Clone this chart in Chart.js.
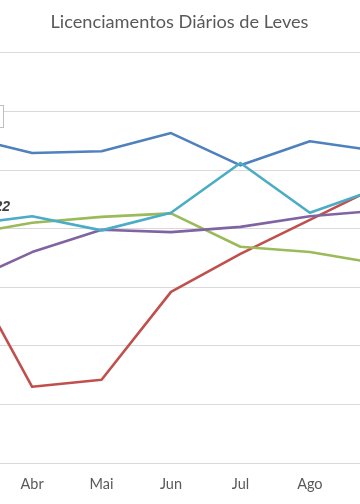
<!DOCTYPE html>
<html>
<head>
<meta charset="utf-8">
<script src="https://cdn.jsdelivr.net/npm/chart.js@4/dist/chart.umd.min.js"></script>
<style>
  html, body { margin: 0; padding: 0; background: #ffffff; overflow: hidden; width: 360px; height: 504px; }
  #wrap { position: absolute; left: -100px; top: 0; width: 560px; height: 504px; }
</style>
</head>
<body>
<div id="wrap"><canvas id="c"></canvas></div>
<script>
// Categories (months; Mar and Set are partly outside the visible crop)
const months = ["Mar", "Abr", "Mai", "Jun", "Jul", "Ago", "Set"];

// Series values (arbitrary units, axis hidden by the crop)
const s2019 = [558, 529, 532, 563, 508, 549, 532]; // blue
const s2020 = [347, 130, 142, 292, 357, 415, 473]; // red
const s2021 = [389, 410, 420, 426, 369, 360, 340]; // green
const s2023 = [306, 360, 398, 394, 403, 421, 431]; // purple
const s2022 = [406, 421, 397, 427, 512, 427, 469]; // cyan

const yTicks = [0, 100, 200, 300, 400, 500, 600, 700];

const titleText = "Licenciamentos Diários de Leves";
const sideLabel = "2022";

const decor = {
  id: 'decor',
  afterDraw(chart) {
    const ctx = chart.ctx;
    ctx.save();
    // partly visible text box at top-left
    ctx.fillStyle = '#ffffff';
    ctx.strokeStyle = '#bfbfbf';
    ctx.lineWidth = 1;
    ctx.fillRect(40, 105, 64, 23);
    ctx.strokeRect(40.5, 105.5, 63, 22);
    // partly visible series label
    ctx.fillStyle = '#404040';
    ctx.font = 'italic bold 14px "Liberation Sans", Arial, sans-serif';
    ctx.textAlign = 'right';
    ctx.textBaseline = 'alphabetic';
    ctx.fillText(sideLabel, 110, 211);
    ctx.restore();
  }
};

const mk = (label, data, color) => ({
  label, data,
  borderColor: color,
  backgroundColor: color,
  borderWidth: 2.6,
  pointRadius: 0,
  tension: 0,
  fill: false,
  borderJoinStyle: 'round',
  borderCapStyle: 'round'
});

new Chart(document.getElementById('c'), {
  type: 'line',
  data: {
    labels: months,
    datasets: [
      mk('2022', s2022, '#4BACC6'),
      mk('2023', s2023, '#8064A2'),
      mk('2021', s2021, '#9BBB59'),
      mk('2020', s2020, '#C0504D'),
      mk('2019', s2019, '#4F81BD')
    ]
  },
  options: {
    responsive: true,
    maintainAspectRatio: false,
    devicePixelRatio: 1,
    animation: false,
    layout: { padding: { left: 28, right: 29, top: 0, bottom: 11 } },
    plugins: {
      legend: { display: false },
      tooltip: { enabled: false },
      title: {
        display: true,
        text: titleText,
        color: '#595959',
        font: { family: 'Lato, "Open Sans", sans-serif', size: 18.2, weight: 'normal' },
        padding: { top: 11, bottom: 20 }
      }
    },
    scales: {
      x: {
        offset: true,
        grid: { display: false, drawTicks: false },
        border: { display: true, color: '#d9d9d9', width: 1 },
        ticks: {
          color: '#595959',
          font: { family: 'Lato, "Open Sans", sans-serif', size: 14.5 },
          padding: 13,
          autoSkip: false,
          maxRotation: 0
        },
        afterFit(axis) { axis.height = 30; }
      },
      y: {
        min: yTicks[0],
        max: yTicks[yTicks.length - 1],
        afterBuildTicks(axis) { axis.ticks = yTicks.map(v => ({ value: v })); },
        grid: { color: '#d9d9d9', lineWidth: 1, drawTicks: false },
        border: { display: false },
        ticks: { display: false }
      },
      yRight: {
        position: 'right',
        min: 0,
        max: 1,
        grid: { display: false, drawTicks: false },
        border: { display: false },
        ticks: { display: false },
        afterFit(axis) { axis.width = 17; }
      }
    }
  },
  plugins: [decor]
});
</script>
</body>
</html>
